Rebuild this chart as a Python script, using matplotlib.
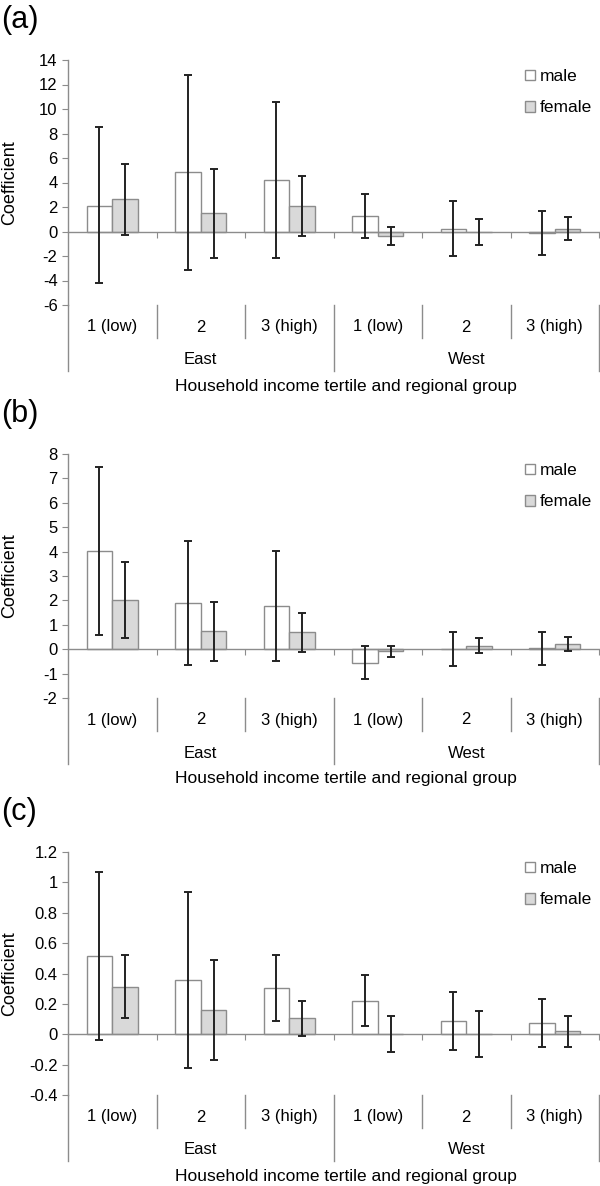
import matplotlib
matplotlib.use("Agg")
import matplotlib.pyplot as plt
import numpy as np

plt.rcParams['font.family'] = ['Liberation Sans', 'DejaVu Sans']
plt.rcParams['axes.unicode_minus'] = False

# ---------------- data ----------------
tertiles = ["1 (low)", "2", "3 (high)", "1 (low)", "2", "3 (high)"]
regions = ["East", "West"]
series_names = ["male", "female"]
panel_labels = ["(a)", "(b)", "(c)"]
xlabel_text = "Household income tertile and regional group"
ylabel_text = "Coefficient"

# panel (a)
a_male = [2.1, 4.84, 4.18, 1.26, 0.22, -0.1]
a_male_lo = [-4.2, -3.14, -2.2, -0.5, -2.0, -1.9]
a_male_hi = [8.5, 12.8, 10.6, 3.03, 2.46, 1.7]
a_female = [2.68, 1.48, 2.1, -0.33, -0.03, 0.22]
a_female_lo = [-0.25, -2.16, -0.33, -1.07, -1.1, -0.71]
a_female_hi = [5.55, 5.1, 4.53, 0.36, 1.04, 1.17]
a_yticks = [-6, -4, -2, 0, 2, 4, 6, 8, 10, 12, 14]

# panel (b)
b_male = [4.01, 1.89, 1.77, -0.55, 0.02, 0.05]
b_male_lo = [0.58, -0.66, -0.47, -1.22, -0.68, -0.63]
b_male_hi = [7.45, 4.44, 4.01, 0.14, 0.71, 0.71]
b_female = [2.0, 0.74, 0.7, -0.07, 0.12, 0.23]
b_female_lo = [0.44, -0.48, -0.11, -0.3, -0.16, -0.07]
b_female_hi = [3.58, 1.93, 1.5, 0.15, 0.44, 0.52]
b_yticks = [-2, -1, 0, 1, 2, 3, 4, 5, 6, 7, 8]

# panel (c)
c_male = [0.513, 0.357, 0.303, 0.222, 0.09, 0.075]
c_male_lo = [-0.04, -0.22, 0.086, 0.053, -0.103, -0.085]
c_male_hi = [1.066, 0.936, 0.52, 0.39, 0.278, 0.235]
c_female = [0.31, 0.16, 0.105, 0.003, 0.002, 0.02]
c_female_lo = [0.105, -0.17, -0.01, -0.116, -0.15, -0.084]
c_female_hi = [0.52, 0.487, 0.22, 0.12, 0.156, 0.12]
c_yticks = [-0.4, -0.2, 0, 0.2, 0.4, 0.6, 0.8, 1.0, 1.2]

# ---------------- style ----------------
W, H = 600, 1186
EDGE = "#8c8c8c"
FEMALE_FILL = "#d9d9d9"
ERR = "#222222"
FS = 12

fig = plt.figure(figsize=(W / 100, H / 100), dpi=100)

# axes boxes in pixels: (left, top, right, bottom)
boxes = [(68, 60, 599, 305), (68, 454, 599, 698), (68, 852, 599, 1095)]

panels = [
    (a_male, a_male_lo, a_male_hi, a_female, a_female_lo, a_female_hi, a_yticks),
    (b_male, b_male_lo, b_male_hi, b_female, b_female_lo, b_female_hi, b_yticks),
    (c_male, c_male_lo, c_male_hi, c_female, c_female_lo, c_female_hi, c_yticks),
]


def fmt(v):
    s = f"{v:.1f}".rstrip("0").rstrip(".")
    if s in ("-0", ""):
        s = "0"
    return s


bw = 0.29
x = np.arange(len(tertiles))

for k, (box, data) in enumerate(zip(boxes, panels)):
    l, t, r, b = box
    m, mlo, mhi, f, flo, fhi, yt = data
    ax = fig.add_axes([l / W, 1 - b / H, (r - l) / W, (b - t) / H])
    axh = b - t

    m = np.array(m); f = np.array(f)
    ax.bar(x - bw / 2, m, bw, color="white", edgecolor=EDGE, linewidth=1.0,
           label=series_names[0], zorder=2)
    ax.bar(x + bw / 2, f, bw, color=FEMALE_FILL, edgecolor=EDGE, linewidth=1.0,
           label=series_names[1], zorder=2)
    ax.errorbar(x - bw / 2, m, yerr=[m - np.array(mlo), np.array(mhi) - m],
                fmt="none", ecolor=ERR, elinewidth=1.4, capsize=2.6,
                capthick=1.4, zorder=3)
    ax.errorbar(x + bw / 2, f, yerr=[f - np.array(flo), np.array(fhi) - f],
                fmt="none", ecolor=ERR, elinewidth=1.4, capsize=2.6,
                capthick=1.4, zorder=3)

    ax.set_xlim(-0.5, len(tertiles) - 0.5)
    ax.set_ylim(yt[0], yt[-1])
    ax.set_yticks(yt)
    ax.set_yticklabels([fmt(v) for v in yt], fontsize=FS)

    for s in ("top", "right"):
        ax.spines[s].set_visible(False)
    ax.spines["left"].set_color(EDGE)
    ax.spines["left"].set_linewidth(1.0)
    ax.spines["bottom"].set_position(("data", 0))
    ax.spines["bottom"].set_color(EDGE)
    ax.spines["bottom"].set_linewidth(1.0)
    ax.set_xticks(np.arange(0.5, len(tertiles), 1.0))
    ax.tick_params(axis="x", direction="out", length=4, color=EDGE,
                   labelbottom=False)
    ax.tick_params(axis="y", direction="out", length=4.5, color=EDGE, pad=3)

    ax.set_ylabel(ylabel_text, fontsize=13, va="center")
    ax.yaxis.set_label_coords(-(l - 10) / (r - l), 0.5)

    trans = ax.get_xaxis_transform()
    d1 = -33 / axh
    d2 = -66 / axh
    # separators below plot area
    for j in range(len(tertiles) + 1):
        xb = j - 0.5
        group_edge = (j % 3 == 0)
        ax.plot([xb, xb], [0, d2 if group_edge else d1], transform=trans,
                color=EDGE, lw=1.0, clip_on=False)
    for j, lab in enumerate(tertiles):
        ax.text(j, -22 / axh, lab, transform=trans, ha="center", va="center",
                fontsize=FS)
    for g, reg in enumerate(regions):
        ax.text(g * 3 + 1, -55 / axh, reg, transform=trans, ha="center",
                va="center", fontsize=FS)

    fig.text(346 / W, 1 - (b + 81) / H, xlabel_text, ha="center", va="center",
             fontsize=12.5)
    fig.text(1 / W, 1 - (t - 40) / H, panel_labels[k], ha="left",
             va="center", fontsize=22)

    ax.legend(loc="upper left", bbox_to_anchor=((525 - l) / (r - l), 1 - 9 / axh),
              frameon=False, fontsize=12.5, handlelength=0.55, handleheight=0.55,
              handletextpad=0.3, labelspacing=0.95, borderpad=0,
              borderaxespad=0)

fig.savefig("out.png", dpi=100)
